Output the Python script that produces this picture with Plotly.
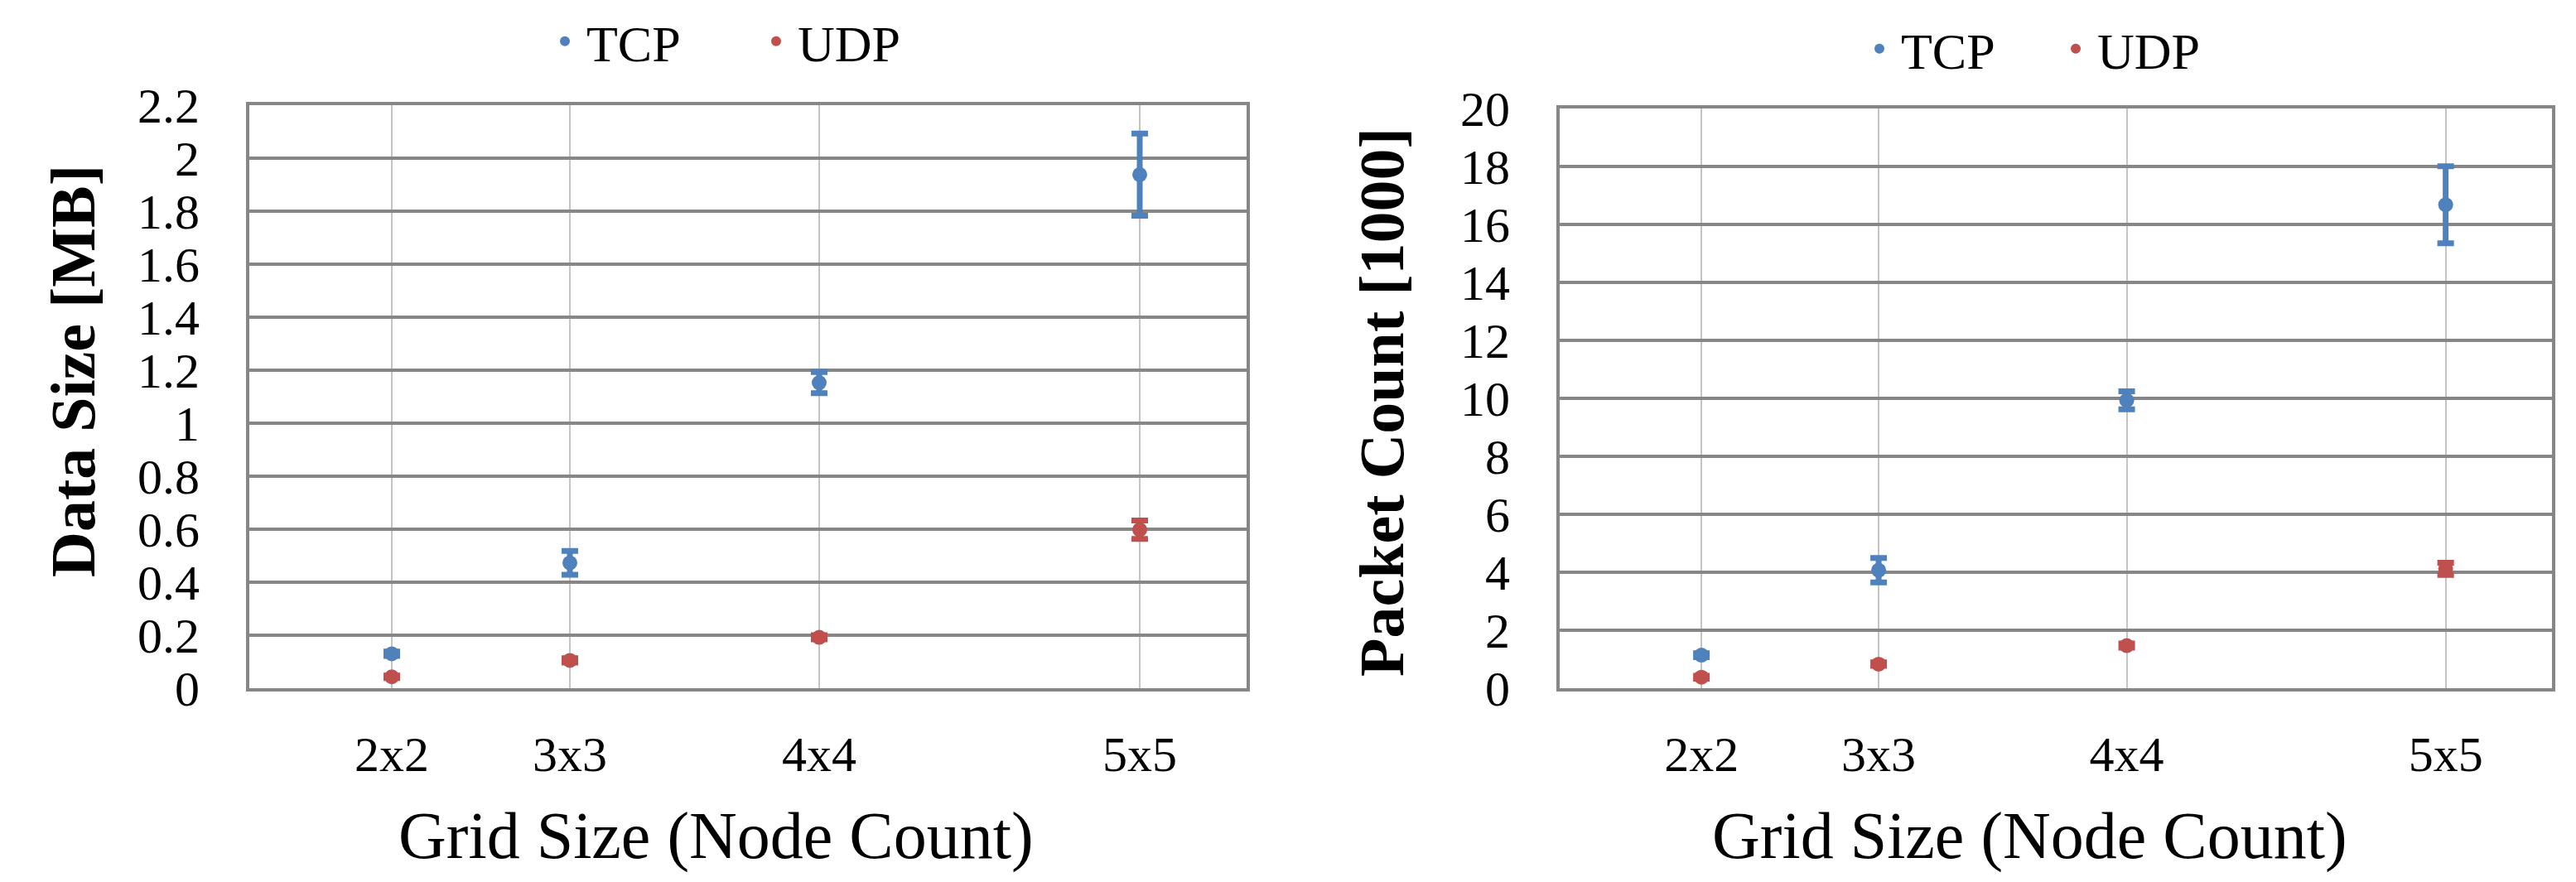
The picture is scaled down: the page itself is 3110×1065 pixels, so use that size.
import plotly.graph_objects as go

W, H = 3110, 1065

# ---- data ----
node_counts = [4, 9, 16, 25]
grid_labels = ["2x2", "3x3", "4x4", "5x5"]

data_tcp = [0.13, 0.473, 1.153, 1.938]
data_tcp_err = [0.008, 0.045, 0.040, 0.155]
data_udp = [0.043, 0.105, 0.192, 0.598]
data_udp_err = [0.005, 0.008, 0.008, 0.035]

pkt_tcp = [1.14, 4.07, 9.93, 16.68]
pkt_tcp_err = [0.07, 0.42, 0.31, 1.33]
pkt_udp = [0.38, 0.83, 1.47, 4.12]
pkt_udp_err = [0.05, 0.06, 0.07, 0.21]

series_names = ["TCP", "UDP"]
colors = ["#4F81BD", "#C0504D"]

FONT = "Liberation Serif, Times New Roman, serif"


def px_x(p):
    return p / W


def px_y(p):
    return 1 - p / H


fig = go.Figure()

panels = [
    (("x", "y"), "legend", [data_tcp, data_udp], [data_tcp_err, data_udp_err]),
    (("x2", "y2"), "legend2", [pkt_tcp, pkt_udp], [pkt_tcp_err, pkt_udp_err]),
]

for (xa, ya), leg, vals, errs in panels:
    for name, color, v, e in zip(series_names, colors, vals, errs):
        fig.add_trace(go.Scatter(
            x=node_counts, y=v, mode="markers", name=name,
            xaxis=xa, yaxis=ya, legend=leg,
            marker=dict(color=color, size=18, symbol="circle"),
            error_y=dict(type="data", array=e, visible=True, color=color,
                         thickness=7, width=10),
        ))

grid_col = "#868686"
vgrid_col = "#C4C4C4"

xaxis_common = dict(
    range=[0, 28], tickmode="array", tickvals=node_counts, ticktext=grid_labels,
    showgrid=True, gridcolor=vgrid_col, gridwidth=1.5, zeroline=False,
    showline=True, mirror=True, linecolor=grid_col, linewidth=4,
    ticks="", tickfont=dict(family=FONT, size=60, color="black"),
    ticklabelstandoff=24, automargin=False,
)
yaxis_common = dict(
    showgrid=True, gridcolor=grid_col, gridwidth=4, zeroline=False,
    showline=True, mirror=True, linecolor=grid_col, linewidth=4,
    ticks="", tickfont=dict(family=FONT, size=60, color="black"),
    ticklabelstandoff=44, automargin=False,
)

legend_common = dict(
    orientation="h", xanchor="left", yanchor="middle",
    font=dict(family=FONT, size=62, color="black"),
    entrywidthmode="pixels", itemwidth=42,
    bgcolor="rgba(0,0,0,0)", itemsizing="constant",
)

fig.update_layout(
    width=W, height=H,
    margin=dict(l=0, r=0, t=0, b=0, pad=0, autoexpand=False),
    paper_bgcolor="white", plot_bgcolor="white",
    font=dict(family=FONT, color="black"),
    xaxis=dict(domain=[px_x(293), px_x(1497)], anchor="y", **xaxis_common),
    yaxis=dict(domain=[px_y(823), px_y(119)], anchor="x", range=[0, 2.2],
               tickmode="array", tickvals=[i * 0.2 for i in range(12)],
               ticktext=["0", "0.2", "0.4", "0.6", "0.8", "1", "1.2", "1.4",
                         "1.6", "1.8", "2", "2.2"],
               **yaxis_common),
    xaxis2=dict(domain=[px_x(1875), px_x(3073)], anchor="y2", **xaxis_common),
    yaxis2=dict(domain=[px_y(823), px_y(123)], anchor="x2", range=[0, 20],
                tickmode="array", tickvals=list(range(0, 21, 2)),
                **yaxis_common),
    legend=dict(x=px_x(648), y=px_y(42), entrywidth=198, **legend_common),
    legend2=dict(x=px_x(2235), y=px_y(51), entrywidth=180, **legend_common),
    showlegend=True,
)

annotations = [
    dict(text="Grid Size (Node Count)", x=px_x(856), y=px_y(1001),
         font=dict(family=FONT, size=80)),
    dict(text="Grid Size (Node Count)", x=px_x(2442), y=px_y(1001),
         font=dict(family=FONT, size=80)),
    dict(text="<b>Data Size [MB]</b>", x=px_x(80), y=px_y(440), textangle=-90,
         font=dict(family=FONT, size=76)),
    dict(text="<b>Packet Count [1000]</b>", x=px_x(1660), y=px_y(478),
         textangle=-90, font=dict(family=FONT, size=76)),
]
for a in annotations:
    fig.add_annotation(xref="paper", yref="paper", showarrow=False,
                       xanchor="center", yanchor="middle", **a)

fig.write_html("out.html")
